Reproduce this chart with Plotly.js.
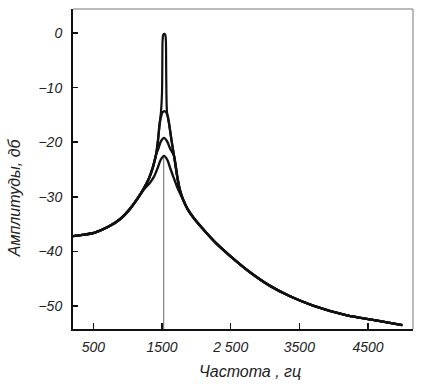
<!DOCTYPE html>
<html>
<head>
<meta charset="utf-8">
<script src="https://cdn.plot.ly/plotly-3.0.1.min.js"></script>
<style>html,body{margin:0;padding:0;background:#fff;}#chart{width:423px;height:384px;}</style>
</head>
<body>
<div id="chart"></div>
<script>
// Common tails (all four curves coincide here)
const leftTailHz  = [204, 510, 743, 888, 1034, 1150, 1238, 1311, 1369, 1413, 1442, 1464, 1485];
const leftTailDb  = [-37.2, -36.6, -35.3, -34.1, -32.2, -30.2, -28.4, -26.6, -24.5, -22.3, -19.6, -16.8, -14.5];
const rightTailHz = [1573, 1602, 1638, 1675, 1726, 1760, 1810, 1875, 1951, 2097, 2272, 2490, 2781, 3073, 3364, 3699, 4194, 4675, 5000];
const rightTailDb = [-14.5, -16.5, -19.6, -22.5, -26.6, -28.7, -30.6, -32.3, -33.7, -35.9, -38.3, -40.8, -43.8, -46.3, -48.2, -49.9, -51.7, -52.75, -53.5];

// Peak sections of the four resonance curves
const peak1Hz = [1500, 1505, 1508, 1518, 1533, 1548, 1557, 1560, 1564];
const peak1Db = [-11, -5, -1.5, -0.3, -0.15, -0.3, -1.5, -5, -11];
const peak2Hz = [1464, 1485, 1508, 1535, 1560, 1585, 1602];
const peak2Db = [-16.8, -15.3, -14.5, -14.3, -14.5, -15.3, -16.5];
const peak3Hz = [1413, 1449, 1485, 1529, 1573, 1616, 1675];
const peak3Db = [-22.3, -21.1, -19.8, -19.2, -19.8, -21.1, -22.5];
const peak4Hz = [1150, 1238, 1325, 1384, 1434, 1478, 1529, 1580, 1624, 1667, 1718, 1760, 1810];
const peak4Db = [-30.2, -28.6, -27.4, -26.3, -24.8, -23.3, -22.5, -23.3, -24.9, -26.4, -28.1, -29.3, -30.6];

const markerHz = 1525;

const xTickVals = [500, 1500, 2500, 3500, 4500];
const xTickText = ["500", "1500", "2 500", "3500", "4500"];
const yTickVals = [0, -10, -20, -30, -40, -50];
const yTickText = ["0", "\u221210", "\u221220", "\u221230", "\u221240", "\u221250"];

const xRange = [204, 5155];
const yRange = [-54.2, 4.4];

function splice(tHz, tDb) {
  const lo = tHz[0], hi = tHz[tHz.length - 1];
  const x = [], y = [];
  leftTailHz.forEach((h, i) => { if (h < lo) { x.push(h); y.push(leftTailDb[i]); } });
  tHz.forEach((h, i) => { x.push(h); y.push(tDb[i]); });
  rightTailHz.forEach((h, i) => { if (h > hi) { x.push(h); y.push(rightTailDb[i]); } });
  return {x, y};
}

const c1 = {x: leftTailHz.concat(peak1Hz, rightTailHz), y: leftTailDb.concat(peak1Db, rightTailDb)};
const c2 = splice(peak2Hz, peak2Db);
const c3 = splice(peak3Hz, peak3Db);
const c4 = splice(peak4Hz, peak4Db);

const lineStyle = {color: '#111', width: 2.4, shape: 'spline', smoothing: 0.6};

const traces = [
  {x: [markerHz, markerHz], y: [yRange[0], Math.max(...peak4Db)], mode: 'lines', line: {color: '#666', width: 1}, hoverinfo: 'skip'},
  {x: c4.x, y: c4.y, mode: 'lines', line: lineStyle},
  {x: c3.x, y: c3.y, mode: 'lines', line: lineStyle},
  {x: c2.x, y: c2.y, mode: 'lines', line: lineStyle},
  {x: c1.x, y: c1.y, mode: 'lines', line: {color: '#111', width: 2.2, shape: 'spline', smoothing: 0.6}}
];

const tickFont = {family: 'Liberation Sans, Arial, sans-serif', size: 14, color: '#222', style: 'italic'};

const layout = {
  width: 423, height: 384,
  margin: {l: 73, r: 10, t: 9, b: 55, pad: 0},
  paper_bgcolor: '#fff', plot_bgcolor: '#fff',
  showlegend: false,
  xaxis: {
    range: xRange, tickvals: xTickVals, ticktext: xTickText,
    ticks: 'inside', ticklen: 6, tickwidth: 1.5, tickcolor: '#111',
    showgrid: false, zeroline: false, showline: true, linewidth: 2, linecolor: '#111',
    tickfont: tickFont, ticklabelstandoff: 4
  },
  yaxis: {
    range: yRange, tickvals: yTickVals, ticktext: yTickText,
    ticks: 'inside', ticklen: 5, tickwidth: 1.5, tickcolor: '#111',
    showgrid: false, zeroline: false, showline: true, linewidth: 2, linecolor: '#111',
    tickfont: tickFont, ticklabelstandoff: 6
  },
  shapes: [
    {type: 'line', xref: 'paper', yref: 'paper', x0: 0, x1: 1, y0: 1, y1: 1, line: {color: '#777', width: 1}},
    {type: 'line', xref: 'paper', yref: 'paper', x0: 1, x1: 1, y0: 0, y1: 1, line: {color: '#777', width: 1}}
  ],
  annotations: [
    {text: 'Частота , гц', xref: 'paper', yref: 'paper', x: 0.52, y: -0.134, xanchor: 'center', yanchor: 'middle',
     showarrow: false, font: {family: 'Liberation Sans, Arial, sans-serif', size: 16, color: '#222', style: 'italic'}},
    {text: 'Амплитуды, дб', xref: 'paper', yref: 'paper', x: -0.1735, y: 0.409, xanchor: 'center', yanchor: 'middle',
     textangle: -90, showarrow: false, font: {family: 'Liberation Sans, Arial, sans-serif', size: 16, color: '#222', style: 'italic'}}
  ]
};

Plotly.newPlot('chart', traces, layout, {staticPlot: true, displayModeBar: false});
</script>
</body>
</html>
